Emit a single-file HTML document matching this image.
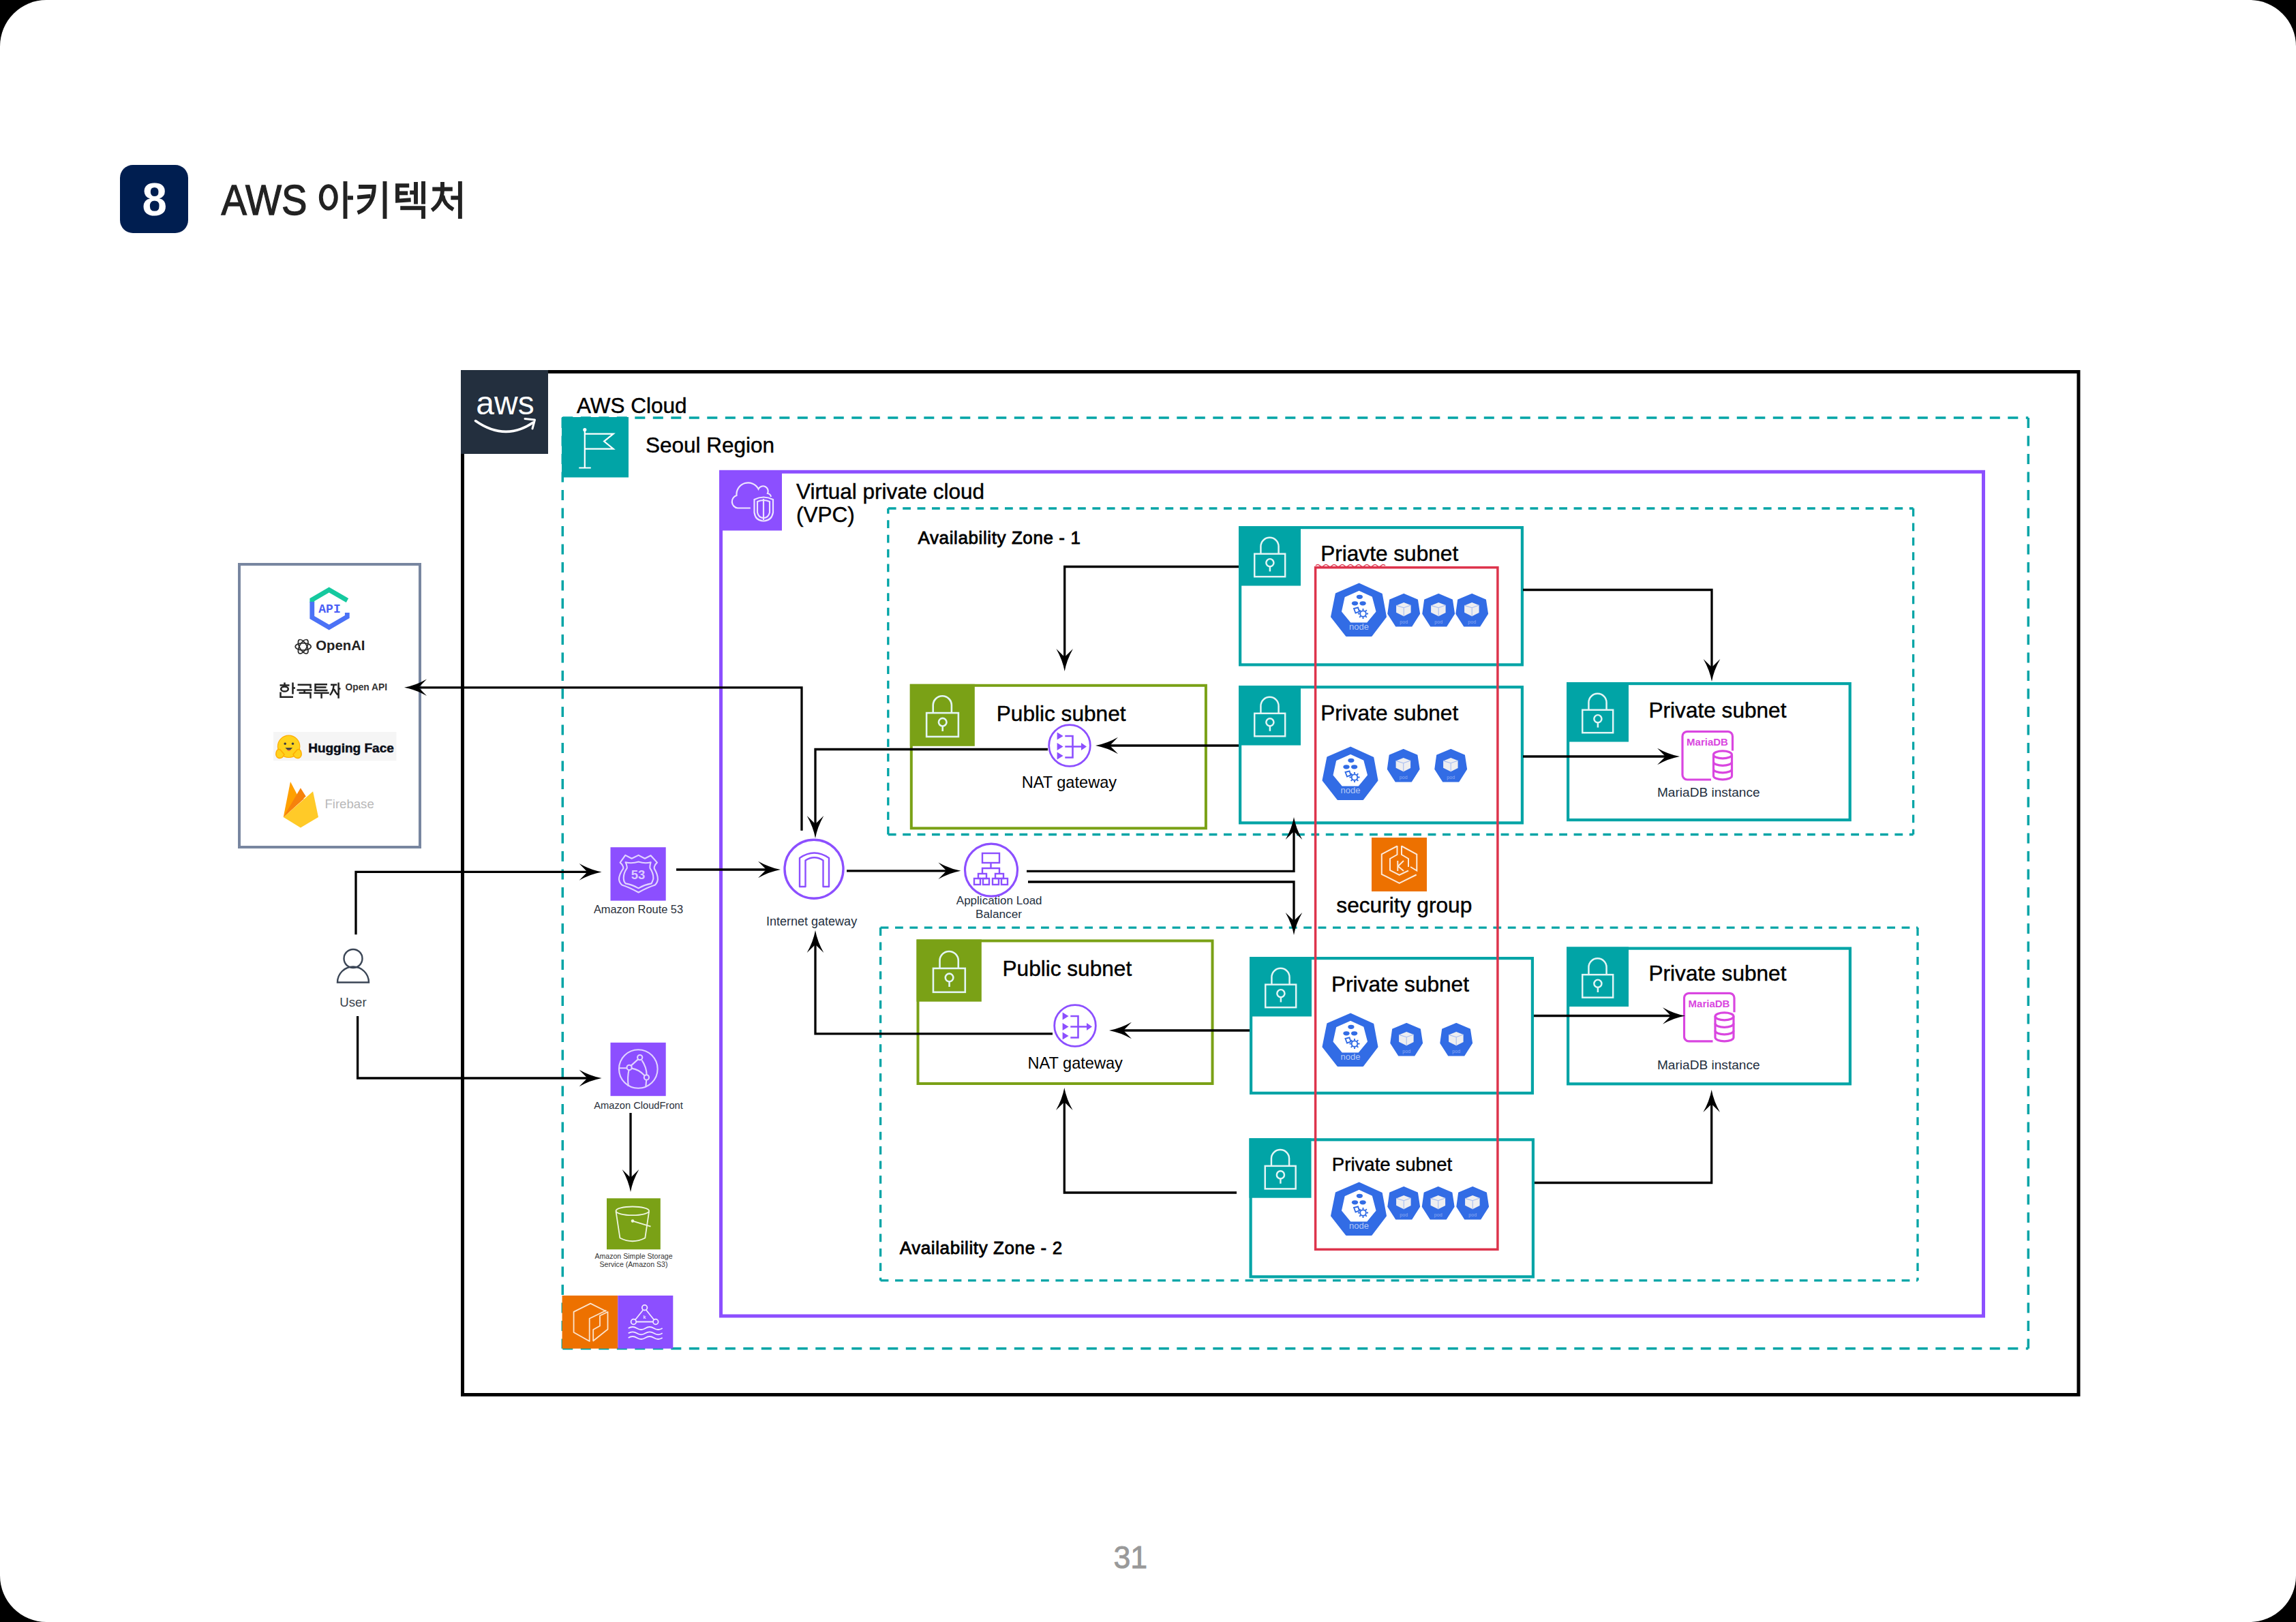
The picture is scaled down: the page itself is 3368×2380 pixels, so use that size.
<!DOCTYPE html>
<html><head><meta charset="utf-8">
<style>
html,body{margin:0;padding:0;background:#000;width:3368px;height:2380px;overflow:hidden}
#page{position:absolute;left:0;top:0;width:3368px;height:2380px;background:#fff;border-radius:68px;overflow:hidden}
svg{position:absolute;left:0;top:0}
text{font-family:"Liberation Sans",sans-serif}
</style></head><body>
<div id="page">
<svg width="3368" height="2380" viewBox="0 0 3368 2380">

<defs>
<symbol id="lock" viewBox="0 0 91 88" width="91" height="88">
<g fill="none" stroke="#e3f5f5" stroke-width="2.5">
<path d="M32.35,40.9 V30 A13.15,13.15 0 0 1 58.65,30 V40.9"/>
<rect x="23.1" y="40.9" width="45.2" height="33.7"/>
<circle cx="45.9" cy="54" r="5.6"/>
<path d="M45.9,59.6 V67"/>
</g>
</symbol>
<symbol id="k8snode" viewBox="0 0 82 78" width="82" height="78" overflow="visible">
<polygon points="41.1,0.8 74.1,16 80.2,48.9 59.1,76.7 22.5,76.7 0.8,48.9 7.5,15.5" fill="#326ce5" stroke="#326ce5" stroke-width="2.5" stroke-linejoin="round"/>
<polygon points="41.1,11.8 59.7,20.1 65.2,41.2 52.4,56.8 29.1,56.8 16.3,41.2 20.8,20.7" fill="#fff" stroke="#fff" stroke-width="1.5" stroke-linejoin="round"/>
<g fill="#326ce5">
<ellipse cx="41.9" cy="19.8" rx="4.6" ry="3.1"/>
<ellipse cx="35" cy="29.3" rx="4.6" ry="3.1"/><ellipse cx="46.6" cy="29.3" rx="4.6" ry="3.1"/>
</g>
<g fill="none" stroke="#326ce5" stroke-width="1.9">
<circle cx="47" cy="44.5" r="4.3"/>
<path d="M47,37 V39.5 M47,49.5 V52 M39.5,44.5 H42 M52,44.5 H54.5 M41.7,39.2 L43.5,41 M50.5,48 L52.3,49.8 M52.3,39.2 L50.5,41 M43.5,48 L41.7,49.8"/>
<path d="M33.5,37 L39.5,35.5 L41.5,41.5 L36,43.5 Z"/>
</g>
<text x="41" y="68.3" font-size="13" fill="#b5c8f5" text-anchor="middle">node</text>
</symbol>
<symbol id="k8spod" viewBox="0 0 50 49" width="50" height="49" overflow="visible">
<polygon points="24.2,0.8 44.2,9.3 47.3,29.5 35.7,47.8 12.8,47.8 1.1,29.5 3.9,9.3" fill="#326ce5" stroke="#326ce5" stroke-width="1.6" stroke-linejoin="round"/>
<path d="M13.1,17.4 L24.2,13 L34.6,17 L34.6,28.1 L24.2,33.3 L13.1,27.8 Z" fill="#eeeef0"/>
<path d="M13.1,17.4 L24.2,20.7 L34.6,17 M24.2,20.7 V33.3" fill="none" stroke="#a8bdf0" stroke-width="1.1"/>
<text x="24.2" y="44" font-size="7" fill="#8eaaf0" text-anchor="middle">pod</text>
</symbol>
<symbol id="mariadb" viewBox="0 0 80 76" width="80" height="76">
<path d="M44,72.6 H9 A7,7 0 0 1 2,65.6 V9 A7,7 0 0 1 9,2 H68.5 A7,7 0 0 1 75.5,9 V30" fill="none" stroke="#d946e0" stroke-width="3.2"/>
<text x="38.5" y="22.5" font-size="15" font-weight="bold" fill="#d946e0" text-anchor="middle" font-family="Liberation Sans, sans-serif">MariaDB</text>
<g fill="none" stroke="#d946e0" stroke-width="3.2">
<ellipse cx="61" cy="36" rx="13.5" ry="5.5"/>
<path d="M47.5,36 V67 A13.5,5.5 0 0 0 74.5,67 V36"/>
<path d="M47.5,46.5 A13.5,5.5 0 0 0 74.5,46.5 M47.5,57 A13.5,5.5 0 0 0 74.5,57"/>
</g>
</symbol>
<symbol id="natgw" viewBox="0 0 64 64" width="64" height="64">
<circle cx="32" cy="32" r="30.3" fill="#fff" stroke="#8c4fff" stroke-width="2.8"/>
<g fill="#8c4fff">
<path d="M13.6,12.5 L22.6,18 L13.6,23.5 Z"/><path d="M13.6,28 L22.6,33.5 L13.6,39 Z"/><path d="M13.6,41.5 L22.6,47 L13.6,52.5 Z"/>
<path d="M49,28 L57,33.5 L49,39 Z"/>
</g>
<path d="M25.3,18 H36.5 V49.5 H25.3 M25.3,33.5 H50" fill="none" stroke="#8c4fff" stroke-width="2.6"/>
</symbol>
</defs>

<rect x="176" y="242" width="100" height="100" rx="19" fill="#001e50"/>
<text x="0" y="316" font-size="69" fill="#fff" text-anchor="middle" font-weight="bold" transform="translate(226.8,0) scale(0.95,1)" font-family="Liberation Sans, sans-serif">8</text>
<text x="0" y="315.3" font-size="63.5" fill="#222" stroke="#222" stroke-width="1.3" transform="translate(324.5,0) scale(0.885,1)" font-family="Liberation Sans, sans-serif">AWS</text>
<g fill="none" stroke="#222" stroke-width="5.9"><ellipse cx="481.8" cy="289.5" rx="11" ry="16.4"/><path d="M506.5,266 V321.1 M509.8,290.3 H518"/><path d="M526,274 H548.8 C548.5,294 540,306 524.6,312.3"/><path d="M524.1,289.6 L543.6,287.8"/><path d="M564.5,266 V321.1"/><path d="M600.2,272.3 H583 V294.6 L602.7,293.3"/><path d="M583,283.4 H598.2"/><path d="M610,267 V299.6 M601.2,282.5 H610 M621,266 V299.6"/><path d="M587.2,305.3 H621 V321.1"/><path d="M649,267 V277.5 M634.3,277.5 H663.8"/><path d="M649,279 C648.5,293 643,302 633.5,308.5"/><path d="M649.3,287 C651,297 656,302.5 665,307.5"/><path d="M661.3,290.3 H672 M674.9,266 V321.1"/></g>
<rect x="678.5" y="545.5" width="2370.5" height="1501" fill="none" stroke="#000" stroke-width="5"/>
<rect x="676" y="543" width="128" height="123" fill="#232f3e"/>
<text x="741" y="608" font-size="48" fill="#fff" text-anchor="middle" font-family="Liberation Sans, sans-serif">aws</text>
<path d="M697.5,617.5 Q741,648 782,620" fill="none" stroke="#fff" stroke-width="3.5" stroke-linecap="round"/>
<path d="M770,614.5 L784.5,616 L781,629" fill="none" stroke="#fff" stroke-width="3" stroke-linecap="round" stroke-linejoin="round"/>
<text x="846" y="605.5" font-size="31.5" fill="#000" text-anchor="start" font-weight="normal" stroke="#000" stroke-width="0.45">AWS Cloud</text>
<line x1="825.3" y1="613.1" x2="2975.3" y2="613.1" stroke="#01a4a6" stroke-width="3.5" stroke-dasharray="15,11.5"/>
<line x1="2975.3" y1="613.1" x2="2975.3" y2="1978.6999999999998" stroke="#01a4a6" stroke-width="3.5" stroke-dasharray="15,11.5"/>
<line x1="825.3" y1="1978.6999999999998" x2="2975.3" y2="1978.6999999999998" stroke="#01a4a6" stroke-width="3.5" stroke-dasharray="15,11.5"/>
<line x1="825.3" y1="613.1" x2="825.3" y2="1978.6999999999998" stroke="#01a4a6" stroke-width="3.5" stroke-dasharray="15,11.5"/>
<rect x="824" y="612" width="98" height="88.5" fill="#01a4a6"/>
<g fill="none" stroke="#fff" stroke-width="2.2"><path d="M857.8,632 V686.5 M849.3,686.5 H866.8"/><path d="M857.8,636.6 H899.7 L886.1,647.6 L899.7,658.7 H857.8"/></g><circle cx="857.8" cy="630.5" r="2.6" fill="#fff"/>
<text x="947" y="664" font-size="31.5" fill="#000" text-anchor="start" font-weight="normal" stroke="#000" stroke-width="0.45">Seoul Region</text>
<rect x="1057.5" y="692.3" width="1852" height="1238.7" fill="none" stroke="#8c4fff" stroke-width="5"/>
<rect x="1055" y="690" width="92" height="88.5" fill="#8c4fff"/>
<g fill="none" stroke="#fff" stroke-width="2.2" opacity="0.85"><path d="M1100.8,745.5 H1082 A9.5,9.5 0 0 1 1080.5,727 A17,17 0 0 1 1112.5,717.5 A7,7 0 0 1 1126,724 A6,6 0 0 1 1131,729"/><path d="M1106.5,733 Q1120,726 1134,733 V752 Q1132,764 1120,764.5 Q1108,764 1106.5,752 Z"/><path d="M1111,736 Q1120,732 1129,736 V752 Q1127,760 1120,760 Q1113,760 1111,752 Z"/><path d="M1120,732 V763"/></g>
<text x="1168" y="732" font-size="31.5" fill="#000" text-anchor="start" font-weight="normal" stroke="#000" stroke-width="0.45">Virtual private cloud</text>
<text x="1168" y="766" font-size="31.5" fill="#000" text-anchor="start" font-weight="normal" stroke="#000" stroke-width="0.45">(VPC)</text>
<line x1="1302.8" y1="746" x2="2806.6" y2="746" stroke="#01a4a6" stroke-width="3.3" stroke-dasharray="11.8,9.6"/>
<line x1="2806.6" y1="746" x2="2806.6" y2="1224.5" stroke="#01a4a6" stroke-width="3.3" stroke-dasharray="11.8,9.6"/>
<line x1="1302.8" y1="1224.5" x2="2806.6" y2="1224.5" stroke="#01a4a6" stroke-width="3.3" stroke-dasharray="11.8,9.6"/>
<line x1="1302.8" y1="1224.5" x2="1302.8" y2="746" stroke="#01a4a6" stroke-width="3.3" stroke-dasharray="11.8,9.6"/>
<text x="1346.5" y="797.6" font-size="26" fill="#000" text-anchor="start" font-weight="normal" letter-spacing="0.6" stroke="#000" stroke-width="0.8">Availability Zone - 1</text>
<line x1="1291.6" y1="1361.1" x2="2813.0" y2="1361.1" stroke="#01a4a6" stroke-width="3.3" stroke-dasharray="11.8,9.6"/>
<line x1="2813.0" y1="1361.1" x2="2813.0" y2="1878.8999999999999" stroke="#01a4a6" stroke-width="3.3" stroke-dasharray="11.8,9.6"/>
<line x1="1291.6" y1="1878.8999999999999" x2="2813.0" y2="1878.8999999999999" stroke="#01a4a6" stroke-width="3.3" stroke-dasharray="11.8,9.6"/>
<line x1="1291.6" y1="1361.1" x2="1291.6" y2="1878.8999999999999" stroke="#01a4a6" stroke-width="3.3" stroke-dasharray="11.8,9.6"/>
<text x="1319.7" y="1840" font-size="26" fill="#000" text-anchor="start" font-weight="normal" letter-spacing="0.6" stroke="#000" stroke-width="0.8">Availability Zone - 2</text>
<rect x="1336.8" y="1005.8" width="432.10000000000014" height="209.5" fill="none" stroke="#7aa116" stroke-width="4.0"/>
<rect x="1334.8" y="1003.8" width="95" height="91" fill="#7aa116"/>
<use href="#lock" x="1334.8" y="1003.8" width="95" height="91"/>
<text x="1461.8" y="1057.7" font-size="31.6" fill="#000" text-anchor="start" font-weight="normal" stroke="#000" stroke-width="0.45">Public subnet</text>
<rect x="1819.1" y="774.1" width="413.8" height="201.3" fill="none" stroke="#01a4a6" stroke-width="4.2"/>
<rect x="1817" y="772" width="91" height="87.5" fill="#01a4a6"/>
<use href="#lock" x="1817" y="772" width="91" height="87.5"/>
<text x="1937.2" y="822.8" font-size="31.6" fill="#000" text-anchor="start" font-weight="normal" stroke="#000" stroke-width="0.45">Priavte subnet</text>
<rect x="1819.1" y="1008.2" width="413.8" height="199.2" fill="none" stroke="#01a4a6" stroke-width="4.2"/>
<rect x="1817" y="1006.1" width="91" height="87.5" fill="#01a4a6"/>
<use href="#lock" x="1817" y="1006.1" width="91" height="87.5"/>
<text x="1937.2" y="1057" font-size="31.6" fill="#000" text-anchor="start" font-weight="normal" stroke="#000" stroke-width="0.45">Private subnet</text>
<rect x="2300.1" y="1003.1" width="413.6000000000002" height="200.00000000000006" fill="none" stroke="#01a4a6" stroke-width="4.2"/>
<rect x="2298" y="1001" width="91" height="87.5" fill="#01a4a6"/>
<use href="#lock" x="2298" y="1001" width="91" height="87.5"/>
<text x="2418.5" y="1052.7" font-size="31.6" fill="#000" text-anchor="start" font-weight="normal" stroke="#000" stroke-width="0.45">Private subnet</text>
<rect x="1346.5" y="1380.5" width="432.0" height="209.5" fill="none" stroke="#7aa116" stroke-width="4.0"/>
<rect x="1344.5" y="1378.5" width="95.3" height="91.2" fill="#7aa116"/>
<use href="#lock" x="1344.5" y="1378.5" width="95.3" height="91.2"/>
<text x="1470.5" y="1431.7" font-size="31.6" fill="#000" text-anchor="start" font-weight="normal" stroke="#000" stroke-width="0.45">Public subnet</text>
<rect x="1835.1" y="1406.1" width="412.8" height="197.8" fill="none" stroke="#01a4a6" stroke-width="4.2"/>
<rect x="1833" y="1404" width="91" height="87.5" fill="#01a4a6"/>
<use href="#lock" x="1833" y="1404" width="91" height="87.5"/>
<text x="1953" y="1455" font-size="31.6" fill="#000" text-anchor="start" font-weight="normal" stroke="#000" stroke-width="0.45">Private subnet</text>
<rect x="2300.1" y="1391.6" width="413.8" height="198.8" fill="none" stroke="#01a4a6" stroke-width="4.2"/>
<rect x="2298" y="1389.5" width="91" height="87.5" fill="#01a4a6"/>
<use href="#lock" x="2298" y="1389.5" width="91" height="87.5"/>
<text x="2418.5" y="1439" font-size="31.6" fill="#000" text-anchor="start" font-weight="normal" stroke="#000" stroke-width="0.45">Private subnet</text>
<rect x="1834.6" y="1672.3" width="414.3" height="201.09999999999997" fill="none" stroke="#01a4a6" stroke-width="4.2"/>
<rect x="1832.5" y="1670.2" width="91" height="87.5" fill="#01a4a6"/>
<use href="#lock" x="1832.5" y="1670.2" width="91" height="87.5"/>
<text x="1953.8" y="1718" font-size="27.6" fill="#000" text-anchor="start" font-weight="normal" stroke="#000" stroke-width="0.45">Private subnet</text>
<rect x="1929.6" y="832.7" width="267.3" height="1000.6" fill="none" stroke="#dd344c" stroke-width="3.5"/>
<path d="M1930,830 q3,-3 6,0 t6,0 t6,0 t6,0 t6,0 t6,0 t6,0 t6,0 t6,0 t6,0 t6,0 t6,0 t6,0 t6,0 t6,0 t6,0 t6,0" fill="none" stroke="#dd344c" stroke-width="1.5"/>
<rect x="2012" y="1229" width="81" height="79" fill="#ed7100"/>
<g fill="none" stroke="#fff" stroke-width="2" opacity="0.85"><path d="M2049.5,1241.5 L2026.8,1253.3 V1282.9 L2052.7,1295.8 L2077.7,1283.5"/><path d="M2056,1241.5 L2078.3,1253.6 V1277.5 L2069,1272"/><path d="M2049.5,1241 V1254 L2039,1260 V1277 L2052.7,1284 L2066,1277.5"/><path d="M2056,1241 V1254 L2066,1260 V1272"/><path d="M2050.3,1263 V1278 M2059,1263 L2050.8,1271 L2059,1278"/></g>
<text x="1960.3" y="1339" font-size="31.7" fill="#000" text-anchor="start" font-weight="normal" stroke="#000" stroke-width="0.45">security group</text>
<use href="#k8snode" x="1952.5" y="856"/>
<use href="#k8spod" x="2035" y="871"/>
<use href="#k8spod" x="2086" y="871"/>
<use href="#k8spod" x="2135" y="871"/>
<use href="#k8snode" x="1940" y="1096"/>
<use href="#k8spod" x="2034.5" y="1099"/>
<use href="#k8spod" x="2104" y="1099"/>
<use href="#k8snode" x="1940" y="1487"/>
<use href="#k8spod" x="2039" y="1501"/>
<use href="#k8spod" x="2112" y="1501"/>
<use href="#k8snode" x="1952.5" y="1735"/>
<use href="#k8spod" x="2035" y="1741"/>
<use href="#k8spod" x="2085.5" y="1741"/>
<use href="#k8spod" x="2136" y="1741"/>
<use href="#mariadb" x="2466" y="1071.4"/>
<text x="2506.3" y="1169" font-size="19.1" fill="#232f3e" text-anchor="middle" font-weight="normal" >MariaDB instance</text>
<use href="#mariadb" x="2468.5" y="1455.3"/>
<text x="2506.3" y="1569" font-size="19.1" fill="#232f3e" text-anchor="middle" font-weight="normal" >MariaDB instance</text>
<use href="#natgw" x="1537" y="1062"/>
<text x="1568.4" y="1155.8" font-size="23.6" fill="#000" text-anchor="middle" font-weight="normal" >NAT gateway</text>
<use href="#natgw" x="1545" y="1473"/>
<text x="1577.2" y="1567.6" font-size="23.6" fill="#000" text-anchor="middle" font-weight="normal" >NAT gateway</text>
<circle cx="1194" cy="1275.2" r="43" fill="#fff" stroke="#8c4fff" stroke-width="3.4"/>
<path d="M1173,1301 V1259 Q1194.5,1244 1216,1259 V1301 H1207.5 V1262.5 Q1194.5,1254 1181.5,1262.5 V1301 Z" fill="none" stroke="#8c4fff" stroke-width="2.4" stroke-linejoin="round"/>
<text x="1190.6" y="1357.5" font-size="18" fill="#232f3e" text-anchor="middle" font-weight="normal" >Internet gateway</text>
<circle cx="1454" cy="1276.6" r="38.5" fill="#fff" stroke="#8c4fff" stroke-width="3.2"/>
<g fill="none" stroke="#8c4fff" stroke-width="2.4"><rect x="1441" y="1252" width="25" height="14"/><path d="M1453.5,1266 V1274 M1441,1282 V1274 H1466 V1282"/><rect x="1435" y="1282" width="12" height="7"/><rect x="1460" y="1282" width="12" height="7"/><rect x="1429" y="1289" width="9" height="9"/><rect x="1442" y="1289" width="9" height="9"/><rect x="1456" y="1289" width="9" height="9"/><rect x="1469" y="1289" width="9" height="9"/></g>
<text x="1465.7" y="1327.2" font-size="17" fill="#232f3e" text-anchor="middle" font-weight="normal" >Application Load</text>
<text x="1465" y="1347.2" font-size="17.2" fill="#232f3e" text-anchor="middle" font-weight="normal" >Balancer</text>
<rect x="895.5" y="1243.2" width="81.2" height="78.4" fill="#8c4fff"/>
<g fill="none" stroke="#e2d4ff" stroke-width="2.1" stroke-linejoin="round"><path d="M917.3,1254.9 L926.6,1259.8 L936.6,1254.9 L945.9,1259.8 L954.6,1255.3 L963.9,1265.6 Q959,1270 959.8,1274.6 Q965,1283 964.9,1290.5 Q964,1296 960.4,1298.8 Q950,1302 936.6,1309.5 Q923,1302 912.8,1298.8 Q909,1296 908,1290.5 Q908,1283 914.2,1274.6 Q915,1270 909.7,1265.6 Z"/><path d="M917.6,1265.3 Q927,1267.5 936.6,1264.6 Q946,1267.5 954.6,1265.3 Q953,1270 953.5,1273.9 Q959,1282 958.3,1289.8 Q957,1294 955.6,1296.4 Q946,1298 936.6,1303.3 Q927,1298 917.6,1296.4 Q915,1294 914.9,1289.8 Q914,1282 919.7,1273.9 Q920,1270 917.6,1265.3 Z"/></g>
<text x="936" y="1289.8" font-size="18.5" fill="#dccbff" text-anchor="middle" font-weight="bold">53</text>
<text x="936.5" y="1339.6" font-size="16.4" fill="#2a2f3a" text-anchor="middle" font-weight="normal" >Amazon Route 53</text>
<rect x="895.5" y="1529.8" width="81.2" height="78.4" fill="#8c4fff"/>
<g fill="none" stroke="#e2d4ff" stroke-width="2.1"><circle cx="936.3" cy="1568.5" r="28.3"/><path d="M908.3,1567.2 H919.6 M925.7,1563.6 L935.9,1554.4 M941.5,1555.6 Q948.5,1566 948.6,1577.3 M926.6,1567.6 Q937,1569 945.6,1578.2 M922.6,1569.9 Q920,1580 921.8,1594 M948.2,1584.4 L947.3,1594.5"/><circle cx="938.7" cy="1551.6" r="3.6"/><circle cx="923.1" cy="1566.4" r="3.6"/><circle cx="948.4" cy="1580.9" r="3.6"/></g>
<text x="936.5" y="1627" font-size="14.7" fill="#2a2f3a" text-anchor="middle" font-weight="normal" >Amazon CloudFront</text>
<rect x="890" y="1758.3" width="78.8" height="75" fill="#7aa116"/>
<g fill="none" stroke="#eef5e0" stroke-width="1.8"><ellipse cx="927.8" cy="1776.8" rx="24.3" ry="6.3"/><path d="M903.5,1777.5 L909.4,1816.5 Q927.8,1826 946.3,1816.5 L952.1,1777.5"/><path d="M928,1791.6 L954.5,1799.6"/></g><circle cx="928" cy="1791.6" r="2.3" fill="#eef5e0"/>
<text x="929.5" y="1847" font-size="10.6" fill="#333" text-anchor="middle" font-weight="normal" >Amazon Simple Storage</text>
<text x="929.5" y="1858.9" font-size="10.6" fill="#333" text-anchor="middle" font-weight="normal" >Service (Amazon S3)</text>
<rect x="824.6" y="1901" width="81.7" height="77.8" fill="#ed7100"/>
<rect x="906.3" y="1901" width="81" height="77.8" fill="#8c4fff"/>
<g fill="none" stroke="#fbe3cc" stroke-width="1.8" stroke-linejoin="round"><path d="M889.4,1924.2 L866.2,1912.6 L841.6,1924.9 V1955 L864.7,1968 V1934.8 L889.4,1922.8"/><path d="M870.2,1967.5 V1951 L880,1945.5 V1930.5 L891.5,1925 V1950.5 Z"/></g>
<g fill="none" stroke="#f0e8ff" stroke-width="1.8"><path d="M943.5,1922 L931.5,1937 M947.7,1922 L959.7,1937 M933.3,1939.5 H957.9"/><circle cx="945.6" cy="1918.7" r="3.8"/><circle cx="929.4" cy="1939.5" r="3.8"/><circle cx="961.8" cy="1939.5" r="3.8"/><path d="M921.7,1949 q6.25,-4 12.5,0 t12.5,0 t12.5,0 t12.5,0 M921.7,1956.3 q6.25,-4 12.5,0 t12.5,0 t12.5,0 t12.5,0 M921.7,1963 q6.25,-4 12.5,0 t12.5,0 t12.5,0 t12.5,0"/></g>
<text x="945.5" y="1935" font-size="7" font-weight="bold" fill="#f0e8ff" text-anchor="middle">k</text>
<g fill="none" stroke="#3a4555" stroke-width="2.4"><circle cx="518" cy="1406.5" r="13.5"/><path d="M495,1441.5 A23,23 0 0 1 541,1441.5 Z"/></g>
<text x="518" y="1477" font-size="18.6" fill="#3a3f4a" text-anchor="middle" font-weight="normal" >User</text>
<rect x="351" y="828" width="265" height="415" fill="none" stroke="#7886a0" stroke-width="4"/>
<defs><linearGradient id="apig" x1="0" y1="0" x2="0" y2="1"><stop offset="0" stop-color="#10cf96"/><stop offset="0.35" stop-color="#1fb9c9"/><stop offset="0.4" stop-color="#4a7cf5"/><stop offset="1" stop-color="#4a5cf7"/></linearGradient></defs>
<path d="M457.8,884 V880 L482.7,865.5 L509.5,881" stroke="#15c99f" stroke-width="6.8" fill="none" stroke-linejoin="miter"/>
<path d="M457.8,883 V906 L482.7,920.5 L509.3,905 V899" stroke="#4b72f6" stroke-width="6.8" fill="none"/>
<text x="483.5" y="899.4" font-size="18" font-weight="bold" fill="#4a5ef5" text-anchor="middle" style="font-family:'Liberation Mono',monospace">API</text>
<g fill="none" stroke="#2a2a2a" stroke-width="1.7" transform="translate(444.7,948.8)"><ellipse rx="11.5" ry="5.2"/><ellipse rx="11.5" ry="5.2" transform="rotate(60)"/><ellipse rx="11.5" ry="5.2" transform="rotate(120)"/></g>
<text x="463.3" y="953.8" font-size="20.3" font-weight="bold" fill="#222" font-family="Liberation Sans, sans-serif">OpenAI</text>
<g fill="none" stroke="#222" stroke-width="2.5"><path d="M417.5,1001.5 V1004.5 M410.5,1005.5 H424.5"/><ellipse cx="417.5" cy="1011" rx="5.3" ry="3.6"/><path d="M429.5,1001.5 V1018.5 M429.5,1009.5 H433"/><path d="M411.5,1015.5 V1022.8 H430"/><path d="M436.6,1004.8 H455.5 V1010 M435.5,1012.5 H457.7 M446.6,1012.5 V1016.5 M438.5,1016.8 H455.5 V1024.8"/><path d="M480,1004.3 H462.5 V1013 H480.5 M462.5,1008.5 H478.5 M460.5,1016.8 H482.7 M471.6,1016.8 V1024.8"/><path d="M485,1004.8 H494.3 M489.6,1005 Q489,1014 484,1020 M489.8,1011 Q492,1016 495.5,1019.5 M496.6,1001.5 V1024.8 M496.6,1010.5 H499.5"/></g>
<text x="506.5" y="1012.6" font-size="13.8" font-weight="bold" fill="#333" font-family="Liberation Sans, sans-serif">Open API</text>
<rect x="401" y="1074" width="180.5" height="42.3" fill="#f5f5f5"/>
<circle cx="423.6" cy="1095.3" r="16.2" fill="#ffd21e" stroke="#ffac03" stroke-width="1.2"/>
<circle cx="418.2" cy="1091.3" r="1.7" fill="#3a3b45"/><circle cx="429.5" cy="1091.3" r="1.7" fill="#3a3b45"/>
<path d="M418.3,1097.2 Q423.8,1104 429.2,1097.2 Z" fill="#3a3b45"/><path d="M420.5,1100.5 Q423.8,1103 427,1100.5 Z" fill="#ef4e4e"/>
<path d="M405,1105 Q406,1098 411,1100 L417,1107 Q414,1114 408,1112 Q404,1110 405,1105 Z M442,1105 Q441,1098 436,1100 L430,1107 Q433,1114 439,1112 Q443,1110 442,1105 Z" fill="#ffd21e" stroke="#ffac03" stroke-width="1.5"/>
<text x="452.2" y="1104.4" font-size="19" font-weight="bold" fill="#0b0f19" stroke="#0b0f19" stroke-width="0.5" font-family="Liberation Sans, sans-serif">Hugging Face</text>
<path d="M415.7,1199.1 L459.1,1161.2 L467,1199.1 L440.9,1214.4 Z" fill="#ffca28"/>
<path d="M415.7,1199.1 L426,1146.9 L437,1168 Z" fill="#ffa000"/>
<path d="M415.7,1199.1 L440.9,1156.2 L448.7,1168.6 Z" fill="#f6820c"/>
<path d="M415.7,1199.1 L437,1168 L446,1172 Z" fill="#f6820c"/>
<text x="476.4" y="1186.3" font-size="18.6" fill="#b8b8b8" font-family="Liberation Sans, sans-serif">Firebase</text>
<path d="M1817.0,831.5 L1561.7,831.5 L1561.7,967.0" fill="none" stroke="#000" stroke-width="3.3" stroke-linejoin="miter"/>
<path d="M1561.7,985.0 Q1564.7,968.5 1574.0,952.0 L1561.7,964.0 L1549.4,952.0 Q1558.7,968.5 1561.7,985.0 Z" fill="#000"/>
<path d="M2234.0,865.5 L2511.0,865.5 L2511.0,982.0" fill="none" stroke="#000" stroke-width="3.3" stroke-linejoin="miter"/>
<path d="M2511.0,1000.0 Q2514.0,983.5 2523.3,967.0 L2511.0,979.0 L2498.7,967.0 Q2508.0,983.5 2511.0,1000.0 Z" fill="#000"/>
<path d="M2234.0,1110.0 L2446.0,1110.0" fill="none" stroke="#000" stroke-width="3.3" stroke-linejoin="miter"/>
<path d="M2464.0,1110.0 Q2447.5,1107.0 2431.0,1097.7 L2443.0,1110.0 L2431.0,1122.3 Q2447.5,1113.0 2464.0,1110.0 Z" fill="#000"/>
<path d="M1817.0,1094.0 L1625.0,1094.0" fill="none" stroke="#000" stroke-width="3.3" stroke-linejoin="miter"/>
<path d="M1607.0,1094.0 Q1623.5,1097.0 1640.0,1106.3 L1628.0,1094.0 L1640.0,1081.7 Q1623.5,1091.0 1607.0,1094.0 Z" fill="#000"/>
<path d="M1537.0,1099.5 L1196.0,1099.5 L1196.0,1212.0" fill="none" stroke="#000" stroke-width="3.3" stroke-linejoin="miter"/>
<path d="M1196.0,1230.0 Q1199.0,1213.5 1208.3,1197.0 L1196.0,1209.0 L1183.7,1197.0 Q1193.0,1213.5 1196.0,1230.0 Z" fill="#000"/>
<path d="M1176.0,1218.8 L1176.0,1008.8 L611.0,1008.8" fill="none" stroke="#000" stroke-width="3.3" stroke-linejoin="miter"/>
<path d="M593.0,1008.8 Q609.5,1011.8 626.0,1021.1 L614.0,1008.8 L626.0,996.5 Q609.5,1005.8 593.0,1008.8 Z" fill="#000"/>
<path d="M992.0,1276.0 L1127.0,1276.0" fill="none" stroke="#000" stroke-width="3.3" stroke-linejoin="miter"/>
<path d="M1145.0,1276.0 Q1128.5,1273.0 1112.0,1263.7 L1124.0,1276.0 L1112.0,1288.3 Q1128.5,1279.0 1145.0,1276.0 Z" fill="#000"/>
<path d="M1242.0,1277.8 L1391.4,1277.8" fill="none" stroke="#000" stroke-width="3.3" stroke-linejoin="miter"/>
<path d="M1409.4,1277.8 Q1392.9,1274.8 1376.4,1265.5 L1388.4,1277.8 L1376.4,1290.1 Q1392.9,1280.8 1409.4,1277.8 Z" fill="#000"/>
<path d="M1506.0,1278.4 L1898.0,1278.4 L1898.0,1217.0" fill="none" stroke="#000" stroke-width="3.3" stroke-linejoin="miter"/>
<path d="M1898.0,1199.0 Q1895.0,1215.5 1885.7,1232.0 L1898.0,1220.0 L1910.3,1232.0 Q1901.0,1215.5 1898.0,1199.0 Z" fill="#000"/>
<path d="M1508.0,1294.0 L1898.0,1294.0 L1898.0,1354.0" fill="none" stroke="#000" stroke-width="3.3" stroke-linejoin="miter"/>
<path d="M1898.0,1372.0 Q1901.0,1355.5 1910.3,1339.0 L1898.0,1351.0 L1885.7,1339.0 Q1895.0,1355.5 1898.0,1372.0 Z" fill="#000"/>
<path d="M1833.0,1512.0 L1645.0,1512.0" fill="none" stroke="#000" stroke-width="3.3" stroke-linejoin="miter"/>
<path d="M1627.0,1512.0 Q1643.5,1515.0 1660.0,1524.3 L1648.0,1512.0 L1660.0,1499.7 Q1643.5,1509.0 1627.0,1512.0 Z" fill="#000"/>
<path d="M1544.0,1516.9 L1196.0,1516.9 L1196.0,1383.0" fill="none" stroke="#000" stroke-width="3.3" stroke-linejoin="miter"/>
<path d="M1196.0,1365.0 Q1193.0,1381.5 1183.7,1398.0 L1196.0,1386.0 L1208.3,1398.0 Q1199.0,1381.5 1196.0,1365.0 Z" fill="#000"/>
<path d="M2250.0,1490.5 L2454.0,1490.5" fill="none" stroke="#000" stroke-width="3.3" stroke-linejoin="miter"/>
<path d="M2472.0,1490.5 Q2455.5,1487.5 2439.0,1478.2 L2451.0,1490.5 L2439.0,1502.8 Q2455.5,1493.5 2472.0,1490.5 Z" fill="#000"/>
<path d="M1814.0,1750.0 L1561.3,1750.0 L1561.3,1614.0" fill="none" stroke="#000" stroke-width="3.3" stroke-linejoin="miter"/>
<path d="M1561.3,1596.0 Q1558.3,1612.5 1549.0,1629.0 L1561.3,1617.0 L1573.6,1629.0 Q1564.3,1612.5 1561.3,1596.0 Z" fill="#000"/>
<path d="M2251.0,1735.5 L2510.7,1735.5 L2510.7,1617.0" fill="none" stroke="#000" stroke-width="3.3" stroke-linejoin="miter"/>
<path d="M2510.7,1599.0 Q2507.7,1615.5 2498.4,1632.0 L2510.7,1620.0 L2523.0,1632.0 Q2513.7,1615.5 2510.7,1599.0 Z" fill="#000"/>
<path d="M522.0,1371.2 L522.0,1279.4 L864.6,1279.4" fill="none" stroke="#000" stroke-width="3.3" stroke-linejoin="miter"/>
<path d="M882.6,1279.4 Q866.1,1276.4 849.6,1267.1 L861.6,1279.4 L849.6,1291.7 Q866.1,1282.4 882.6,1279.4 Z" fill="#000"/>
<path d="M524.6,1491.0 L524.6,1582.0 L864.6,1582.0" fill="none" stroke="#000" stroke-width="3.3" stroke-linejoin="miter"/>
<path d="M882.6,1582.0 Q866.1,1579.0 849.6,1569.7 L861.6,1582.0 L849.6,1594.3 Q866.1,1585.0 882.6,1582.0 Z" fill="#000"/>
<path d="M925.0,1633.0 L925.0,1731.0" fill="none" stroke="#000" stroke-width="3.3" stroke-linejoin="miter"/>
<path d="M925.0,1749.0 Q928.0,1732.5 937.3,1716.0 L925.0,1728.0 L912.7,1716.0 Q922.0,1732.5 925.0,1749.0 Z" fill="#000"/>
<text x="0" y="2300.6" font-size="47" fill="#999" stroke="#999" stroke-width="0.9" transform="translate(1633.5,0) scale(0.95,1)">31</text>
</svg>
</div>
</body></html>
